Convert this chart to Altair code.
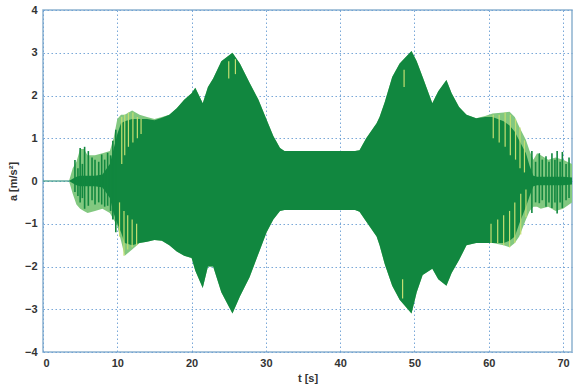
import altair as alt
import pandas as pd

# time grid (s) and envelope values (m/s^2)
t = [0, 3.5, 4, 4.5, 5, 5.5, 6, 7, 8, 9, 9.5, 10, 10.5, 11, 12, 13, 14, 15, 16, 17, 18, 19, 20,
     20.5, 21.5, 22.2, 22.9, 24, 25.5, 26.5, 27.8, 29, 30.1, 31, 31.9, 32.5, 42, 42.6, 43.5, 44.9,
     45.3, 46, 47, 48, 49.6, 50.3, 51.1, 52.4, 53.2, 54.3, 55, 56, 57, 58.3, 59.5, 60.5, 62, 62.8,
     63.5, 64.1, 65, 65.5, 66, 66.5, 67, 68, 69, 70, 71.2]

up_outer = [0, 0, 0.3, 0.45, 0.75, 0.75, 0.6, 0.6, 0.65, 0.7, 1.0, 1.45, 1.55, 1.55, 1.65, 1.55,
            1.5, 1.45, 1.5, 1.55, 1.7, 1.9, 2.05, 2.18, 1.82, 2.2, 2.4, 2.8, 3.0, 2.75, 2.3, 1.9,
            1.43, 1.05, 0.77, 0.7, 0.7, 0.72, 1.0, 1.35, 1.5, 1.85, 2.43, 2.75, 3.04, 2.8, 2.43,
            1.82, 2.1, 2.36, 2.05, 1.73, 1.55, 1.47, 1.52, 1.58, 1.6, 1.62, 1.5, 1.27, 0.96, 0.7,
            0.5, 0.65, 0.6, 0.5, 0.55, 0.5, 0.4]

lo_outer = [0, 0, -0.3, -0.55, -0.65, -0.7, -0.75, -0.7, -0.65, -0.75, -0.9, -1.05, -1.4, -1.75,
            -1.6, -1.45, -1.42, -1.38, -1.4, -1.5, -1.65, -1.75, -1.8, -2.1, -2.5, -2.0, -2.0, -2.6,
            -3.1, -2.7, -2.25, -1.7, -1.2, -0.9, -0.7, -0.68, -0.68, -0.72, -0.95, -1.3, -1.5,
            -1.95, -2.45, -2.78, -3.1, -2.6, -2.2, -2.05, -2.3, -2.45, -2.15, -1.85, -1.5, -1.45,
            -1.45, -1.45, -1.5, -1.55, -1.45, -1.3, -0.9, -0.7, -0.6, -0.6, -0.65, -0.6, -0.7,
            -0.65, -0.5]

up_inner = [0, 0, 0.05, 0.1, 0.12, 0.12, 0.12, 0.12, 0.15, 0.4, 0.75, 1.1, 1.35, 1.4, 1.45, 1.45,
            1.45, 1.42, 1.48, 1.55, 1.7, 1.9, 2.05, 2.18, 1.82, 2.2, 2.4, 2.8, 3.0, 2.75, 2.3, 1.9,
            1.43, 1.05, 0.77, 0.7, 0.7, 0.72, 1.0, 1.35, 1.5, 1.85, 2.43, 2.75, 3.04, 2.8, 2.43,
            1.82, 2.1, 2.36, 2.05, 1.73, 1.55, 1.47, 1.5, 1.5, 1.4, 1.3, 1.15, 0.95, 0.65, 0.35,
            0.12, 0.1, 0.1, 0.1, 0.1, 0.1, 0.08]

lo_inner = [0, 0, -0.05, -0.1, -0.12, -0.12, -0.12, -0.12, -0.15, -0.4, -0.75, -1.0, -1.2, -1.45,
            -1.5, -1.45, -1.42, -1.38, -1.4, -1.5, -1.65, -1.75, -1.8, -2.1, -2.5, -2.0, -2.0, -2.6,
            -3.1, -2.7, -2.25, -1.7, -1.2, -0.9, -0.7, -0.68, -0.68, -0.72, -0.95, -1.3, -1.5,
            -1.95, -2.45, -2.78, -3.1, -2.6, -2.2, -2.05, -2.3, -2.45, -2.15, -1.85, -1.5, -1.45,
            -1.45, -1.45, -1.45, -1.4, -1.3, -1.0, -0.6, -0.35, -0.12, -0.1, -0.1, -0.1, -0.1,
            -0.1, -0.08]

# individual oscillation peaks visible in the fringes
spike_t = [4.3, 4.7, 5.0, 5.3, 5.6, 6.1, 6.6, 7.0, 7.5, 7.9, 8.3, 8.7, 9.1, 9.4, 9.8,
           65.8, 66.3, 66.8, 67.2, 67.7, 68.1, 68.5, 68.9, 69.2, 69.6, 69.9, 70.4, 70.8]
spike_top = [0.49, 0.3, 0.77, 0.4, 0.8, 0.7, 0.55, 0.5, 0.45, 0.62, 0.5, 0.66, 0.6, 0.94, 1.2,
             0.7, 0.45, 0.65, 0.5, 0.58, 0.45, 0.65, 0.5, 0.7, 0.45, 0.68, 0.4, 0.55]
spike_bot = [-0.26, -0.35, -0.5, -0.4, -0.65, -0.58, -0.45, -0.55, -0.5, -0.55, -0.6, -0.58, -0.7, -0.9, -1.2,
             -0.75, -0.5, -0.52, -0.45, -0.6, -0.5, -0.63, -0.5, -0.76, -0.5, -0.63, -0.45, -0.4]

# light streaks inside the solid band
streak_t = [10.6, 11.0, 11.5, 12.1, 12.7, 13.2, 25.0, 25.9, 48.6, 60.6, 61.4, 62.2, 62.9, 63.6, 64.2, 64.8]
streak_top = [1.5, 1.55, 1.6, 1.6, 1.5, 1.45, 2.8, 2.85, 2.6, 1.55, 1.55, 1.6, 1.55, 1.45, 1.25, 0.95]
streak_bot = [0.4, 0.6, 0.8, 0.9, 1.0, 1.1, 2.4, 2.5, 2.2, 1.0, 0.9, 0.8, 0.6, 0.5, 0.3, 0.2]
streak_t2 = [10.3, 10.9, 11.4, 12.0, 12.6, 48.4, 60.3, 61.2, 62.0, 62.8, 63.5, 64.3, 65.0]
streak_lo_top = [-0.5, -0.7, -0.8, -0.9, -1.0, -2.3, -1.0, -0.9, -0.8, -0.7, -0.5, -0.3, -0.2]
streak_lo_bot = [-1.3, -1.75, -1.6, -1.55, -1.5, -2.75, -1.45, -1.45, -1.5, -1.55, -1.45, -1.25, -0.85]

base_t = [0, 3.6]
base_v = [0, 0]

env = pd.DataFrame({"t": t, "uo": up_outer, "lo": lo_outer, "ui": up_inner, "li": lo_inner})
spikes = pd.DataFrame({"t": spike_t, "top": spike_top, "bot": spike_bot})
streaks = pd.DataFrame({"t": streak_t + streak_t2,
                        "top": streak_top + streak_lo_top,
                        "bot": streak_bot + streak_lo_bot})
base = pd.DataFrame({"t": base_t, "v": base_v})

DARK = "#11873f"
LIGHT = "#82c880"
YEL = "#c4de72"

xs = alt.X("t:Q", scale=alt.Scale(domain=[0, 71.2], nice=False),
           axis=alt.Axis(values=[0, 10, 20, 30, 40, 50, 60, 70], title="t  [s]"))
ys = alt.Y("uo:Q", scale=alt.Scale(domain=[-4, 4], nice=False),
           axis=alt.Axis(values=[-4, -3, -2, -1, 0, 1, 2, 3, 4], title="a [m/s²]"))

outer = alt.Chart(env).mark_area(color=LIGHT, opacity=1, interpolate="linear").encode(
    x=xs, y=ys, y2="lo:Q")
inner = alt.Chart(env).mark_area(color=DARK, opacity=1).encode(
    x="t:Q", y="ui:Q", y2="li:Q")
sp = alt.Chart(spikes).mark_rule(color=DARK, strokeWidth=1.6).encode(
    x="t:Q", y="top:Q", y2="bot:Q")
st = alt.Chart(streaks).mark_rule(color=YEL, strokeWidth=1.2).encode(
    x="t:Q", y="top:Q", y2="bot:Q")
bl = alt.Chart(base).mark_line(color="#3c9a86", strokeWidth=1.2).encode(
    x="t:Q", y="v:Q")

chart = alt.layer(outer, inner, sp, st, bl).properties(
    width=529, height=342,
    autosize=alt.AutoSizeParams(type="none"),
    padding={"left": 43, "top": 10, "right": 1, "bottom": 35},
    background="white",
).configure_view(
    stroke="#8db3cf", strokeWidth=1.5
).configure_axis(
    grid=True, gridColor="#6a9fd4", gridDash=[1.5, 2.5], gridWidth=1, gridOpacity=0.9,
    domain=False, ticks=False,
    labelFont="Liberation Sans", labelFontSize=11, labelColor="#333333", labelFontWeight="bold",
    titleFont="Liberation Sans", titleFontSize=11, titleColor="#333333", titleFontWeight="bold",
).configure_axisX(
    labelPadding=5, titlePadding=4
).configure_axisY(
    labelPadding=6, titlePadding=6
)

chart.save("out.html", embed_options={"renderer": "svg", "actions": False})
